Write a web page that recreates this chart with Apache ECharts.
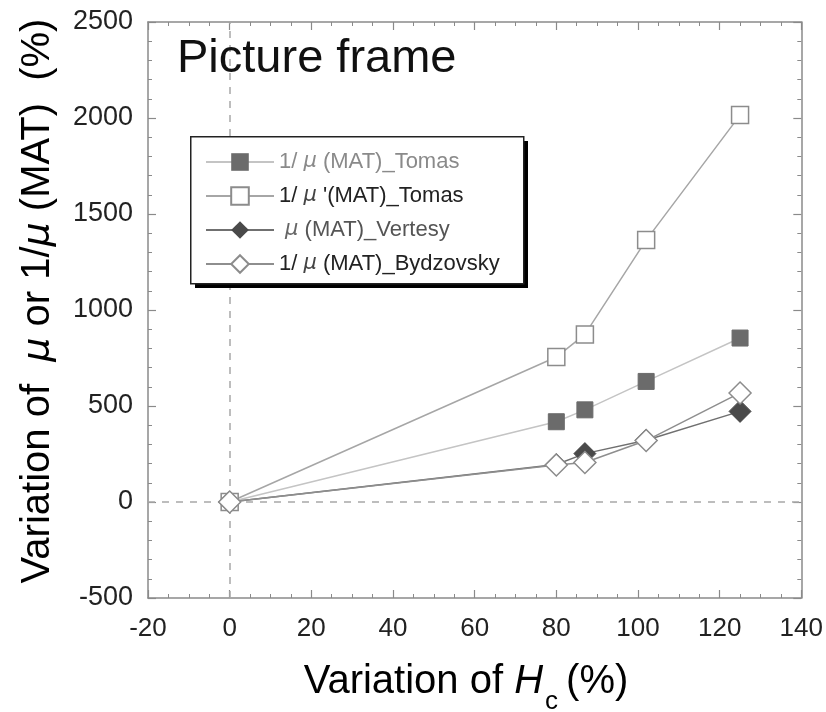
<!DOCTYPE html>
<html><head><meta charset="utf-8">
<script src="https://cdn.jsdelivr.net/npm/echarts@6/dist/echarts.min.js"></script>
<style>html,body{margin:0;padding:0;background:#fff}#c{width:826px;height:712px}</style>
</head><body><div id="c"></div>
<script>
// ---- data ----
const seriesNames = ['1/μ(MAT)_Tomas', "1/μ'(MAT)_Tomas", 'μ(MAT)_Vertesy', '1/μ(MAT)_Bydzovsky'];
const hcTomas = [0, 80, 87, 102, 125];
const invMuTomas = [0, 418, 480, 628, 854];
const invMuPrimeTomas = [0, 755, 873, 1364, 2015];
const hcVertesy = [0, 80, 87, 102, 125];
const muVertesy = [0, 195, 252, 322, 472];
const hcBydzovsky = [0, 80, 87, 102, 125];
const invMuBydzovsky = [0, 193, 206, 320, 568];
const xTicks = [-20, 140, 20];
const yTicks = [-500, 2500, 500];

const pair = (xs, ys) => xs.map((x, i) => [x, ys[i]]);
const FONT = 'Liberation Sans, Arial, sans-serif';

const chart = echarts.init(document.getElementById('c'), null, {renderer: 'canvas'});

const frameAxisCommon = {
  type: 'value',
  axisLine: {show: true, onZero: false, lineStyle: {color: '#8a8a8a', width: 1.5}},
  axisTick: {show: true, inside: true, length: 8, lineStyle: {color: '#8a8a8a', width: 1.2}},
  minorTick: {show: true, length: 4, lineStyle: {color: '#8a8a8a', width: 1}},
  splitLine: {show: false}
};

const MU = 'DejaVu Sans, sans-serif';
const legendRich = {
  g: {fontFamily: FONT, fontSize: 22, color: '#8a8a8a'},
  gm: {fontFamily: MU, fontStyle: 'italic', fontSize: 21, color: '#8a8a8a'},
  d: {fontFamily: FONT, fontSize: 22, color: '#222'},
  dm: {fontFamily: MU, fontStyle: 'italic', fontSize: 21, color: '#444'},
  e: {fontFamily: FONT, fontSize: 22, color: '#555'},
  em: {fontFamily: MU, fontStyle: 'italic', fontSize: 21, color: '#666'}
};
const legendText = {};
legendText[seriesNames[0]] = '{g|1/ }{gm|μ}{g| (MAT)_Tomas}';
legendText[seriesNames[1]] = "{d|1/ }{dm|μ}{d| '(MAT)_Tomas}";
legendText[seriesNames[2]] = '{e| }{em|μ}{e| (MAT)_Vertesy}';
legendText[seriesNames[3]] = '{d|1/ }{dm|μ}{d| (MAT)_Bydzovsky}';

const option = {
  animation: false,
  backgroundColor: '#fff',
  grid: {left: 148, right: 23, top: 22, bottom: 114},
  xAxis: [
    Object.assign({}, frameAxisCommon, {
      position: 'bottom', min: xTicks[0], max: xTicks[1], interval: xTicks[2],
      minorTick: Object.assign({}, frameAxisCommon.minorTick, {splitNumber: 4}),
      axisLabel: {fontFamily: FONT, fontSize: 26, color: '#222', margin: 18}
    }),
    Object.assign({}, frameAxisCommon, {
      position: 'top', min: xTicks[0], max: xTicks[1], interval: xTicks[2],
      minorTick: Object.assign({}, frameAxisCommon.minorTick, {splitNumber: 4}),
      axisLabel: {show: false}
    })
  ],
  yAxis: [
    Object.assign({}, frameAxisCommon, {
      position: 'left', min: yTicks[0], max: yTicks[1], interval: yTicks[2],
      minorTick: Object.assign({}, frameAxisCommon.minorTick, {splitNumber: 5}),
      axisLabel: {fontFamily: FONT, fontSize: 27, color: '#222', margin: 15,
        formatter: v => String(v)}
    }),
    Object.assign({}, frameAxisCommon, {
      position: 'right', min: yTicks[0], max: yTicks[1], interval: yTicks[2],
      minorTick: Object.assign({}, frameAxisCommon.minorTick, {splitNumber: 5}),
      axisLabel: {show: false}
    })
  ],
  legend: {
    left: 205, top: 151, orient: 'vertical',
    padding: 0,
    itemGap: 12,
    itemWidth: 68, itemHeight: 22,
    z: 20,
    data: seriesNames,
    formatter: name => legendText[name],
    textStyle: {rich: legendRich}
  },
  graphic: [
    {type: 'rect', left: 195, top: 141, z: 15, silent: true,
      shape: {width: 333, height: 147}, style: {fill: '#000'}},
    {type: 'rect', left: 190, top: 136, z: 16, silent: true,
      shape: {width: 333, height: 147}, style: {fill: '#fff', stroke: '#222', lineWidth: 1.5}},
    {type: 'text', left: 177, top: 36, z: 100,
      style: {text: 'Picture frame', font: '47px ' + FONT, fill: '#111'}},
    {type: 'text', x: 466, y: 682, z: 100,
      style: {
        text: '{a|Variation of }{i|H}{s|c}{a|(%)}',
        align: 'center', verticalAlign: 'middle',
        rich: {
          a: {fontFamily: FONT, fontSize: 40, color: '#222', lineHeight: 66},
          i: {fontFamily: FONT, fontStyle: 'italic', fontSize: 40, color: '#222', lineHeight: 66},
          s: {fontFamily: FONT, fontSize: 26, color: '#222', verticalAlign: 'bottom', padding: [0, 8, 0, 2]}
        }
      }},
    {type: 'text', x: 38, y: 301, rotation: Math.PI / 2, z: 100,
      style: {
        text: '{a|Variation of  }{m|μ}{a| or 1/}{m|μ}{a| (MAT)  (%)}',
        align: 'center', verticalAlign: 'middle',
        rich: {
          a: {fontFamily: FONT, fontSize: 40, color: '#222'},
          m: {fontFamily: MU, fontStyle: 'italic', fontSize: 38, color: '#222'}
        }
      }}
  ],
  series: [
    {
      name: seriesNames[0], type: 'line', data: pair(hcTomas, invMuTomas),
      symbol: 'rect', symbolSize: 16,
      itemStyle: {color: '#6b6b6b', borderColor: '#6b6b6b'},
      lineStyle: {color: '#c4c4c4', width: 1.5},
      markLine: {
        silent: true, symbol: 'none', label: {show: false},
        lineStyle: {color: '#a8a8a8', type: [7, 7], width: 1.5},
        data: [{xAxis: 0}, {yAxis: 0}]
      },
      z: 3
    },
    {
      name: seriesNames[1], type: 'line', data: pair(hcTomas, invMuPrimeTomas),
      symbol: 'rect', symbolSize: 17,
      itemStyle: {color: '#fff', borderColor: '#8c8c8c', borderWidth: 1.5},
      lineStyle: {color: '#a6a6a6', width: 1.5},
      z: 4
    },
    {
      name: seriesNames[2], type: 'line', data: pair(hcVertesy, muVertesy),
      symbol: 'diamond', symbolSize: 22,
      itemStyle: {color: '#4a4a4a', borderColor: '#4a4a4a'},
      lineStyle: {color: '#707070', width: 1.5},
      z: 5
    },
    {
      name: seriesNames[3], type: 'line', data: pair(hcBydzovsky, invMuBydzovsky),
      symbol: 'diamond', symbolSize: 22,
      itemStyle: {color: '#fff', borderColor: '#8c8c8c', borderWidth: 1.5},
      lineStyle: {color: '#8e8e8e', width: 1.5},
      z: 6
    }
  ]
};
chart.setOption(option);
</script>
</body></html>
